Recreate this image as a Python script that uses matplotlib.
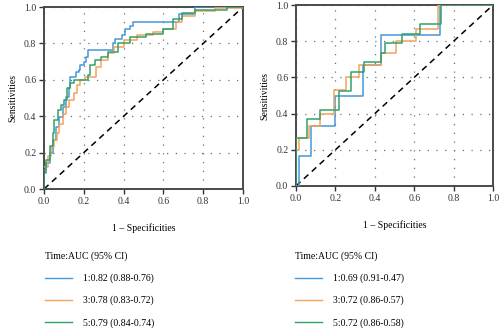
import matplotlib
matplotlib.use("Agg")
import matplotlib.pyplot as plt
from matplotlib.lines import Line2D

plt.rcParams['font.family'] = ['Liberation Serif', 'DejaVu Serif']

colors = ['#4597d6', '#f3a35c', '#32a068']

# left panel (training set)
left_blue_x = [0, 0.011, 0.028, 0.044, 0.06, 0.076, 0.093, 0.109, 0.125, 0.13, 0.16, 0.174, 0.18, 0.2,
               0.21, 0.223, 0.345, 0.357, 0.39, 0.407, 0.43, 0.447, 0.676, 0.76, 1.0]
left_blue_y = [0.106, 0.142, 0.197, 0.27, 0.343, 0.398, 0.45, 0.507, 0.553, 0.617, 0.644, 0.653, 0.68, 0.70,
               0.726, 0.762, 0.80, 0.822, 0.846, 0.88, 0.894, 0.92, 0.96, 1.0, 1.0]
left_orange_x = [0, 0.02, 0.036, 0.052, 0.063, 0.076, 0.093, 0.109, 0.125, 0.15, 0.166, 0.182, 0.207,
                 0.263, 0.288, 0.32, 0.353, 0.4, 0.467, 0.548, 0.597, 0.662, 0.694, 0.76, 0.857, 1.0]
left_orange_y = [0.12, 0.18, 0.23, 0.27, 0.31, 0.36, 0.41, 0.45, 0.49, 0.525, 0.57, 0.60, 0.617,
                 0.67, 0.71, 0.745, 0.78, 0.82, 0.846, 0.863, 0.88, 0.918, 0.95, 0.98, 0.996, 1.0]
left_green_x = [0, 0, 0.011, 0.028, 0.044, 0.052, 0.068, 0.085, 0.1, 0.117, 0.133, 0.15, 0.223, 0.23,
                0.255, 0.288, 0.32, 0.37, 0.434, 0.515, 0.597, 0.646, 0.694, 0.76, 0.92, 1.0]
left_green_y = [0, 0.09, 0.16, 0.234, 0.307, 0.38, 0.434, 0.46, 0.49, 0.553, 0.58, 0.60, 0.626, 0.68,
                0.708, 0.726, 0.754, 0.80, 0.836, 0.854, 0.88, 0.936, 0.97, 0.985, 1.0, 1.0]

# right panel (validation set)
right_blue_x = [0, 0.016, 0.074, 0.20, 0.34, 0.43, 0.73, 1.0]
right_blue_y = [0, 0.167, 0.333, 0.5, 0.667, 0.833, 1.0, 1.0]
right_orange_x = [0, 0.016, 0.066, 0.123, 0.192, 0.254, 0.32, 0.43, 0.51, 0.607, 0.72, 1.0]
right_orange_y = [0.2, 0.267, 0.333, 0.4, 0.533, 0.6, 0.667, 0.733, 0.8, 0.867, 1.0, 1.0]
right_green_x = [0, 0, 0.058, 0.123, 0.218, 0.28, 0.345, 0.43, 0.45, 0.54, 0.63, 0.735, 1.0]
right_green_y = [0, 0.263, 0.368, 0.421, 0.526, 0.632, 0.684, 0.737, 0.789, 0.842, 0.895, 1.0, 1.0]

left_labels = ['1:0.82 (0.88-0.76)', '3:0.78 (0.83-0.72)', '5:0.79 (0.84-0.74)']
right_labels = ['1:0.69 (0.91-0.47)', '3:0.72 (0.86-0.57)', '5:0.72 (0.86-0.58)']
ticks = [0.0, 0.2, 0.4, 0.6, 0.8, 1.0]

fig = plt.figure(figsize=(5, 3.29), dpi=100)
ax1 = fig.add_axes([0.088, 0.4255, 0.398, 0.553])
ax2 = fig.add_axes([0.592, 0.4347, 0.394, 0.550])

panels = [
    (ax1, [(left_blue_x, left_blue_y), (left_orange_x, left_orange_y), (left_green_x, left_green_y)], left_labels, 0.09),
    (ax2, [(right_blue_x, right_blue_y), (right_orange_x, right_orange_y), (right_green_x, right_green_y)], right_labels, 0.59),
]

for ax, curves, labels, lx in panels:
    for (x, y), c in zip(curves, colors):
        ax.plot(x, y, drawstyle='steps-post', color=c, lw=1.1, zorder=3)
    ax.plot([0, 1], [0, 1], color='black', lw=1.1, ls=(0, (4, 3)), zorder=2)
    ax.set_xlim(0, 1)
    ax.set_ylim(0, 1)
    ax.set_xticks(ticks)
    ax.set_yticks(ticks)
    ax.set_xticklabels(['%.1f' % t for t in ticks])
    ax.set_yticklabels(['%.1f' % t for t in ticks])
    ax.tick_params(direction='out', length=3.5, width=1, colors='#333333', labelsize=7, pad=2)
    ax.grid(True, color='#6f6f6f', lw=0.9, ls=(0, (1, 6)))
    for s in ax.spines.values():
        s.set_color('#4a4a4a')
        s.set_linewidth(1.4)
    ax.set_xlabel('1 – Specificities', fontsize=7, labelpad=13)
    ax.set_ylabel('Sensitivities', fontsize=7, labelpad=5)

    handles = [Line2D([], [], color=c, lw=1.0) for c in colors]
    ax.legend(handles, labels, title='Time:AUC (95% CI)', loc='upper left',
              bbox_to_anchor=(lx, 0.236), bbox_transform=fig.transFigure,
              frameon=False, fontsize=7, title_fontsize=7, alignment='left',
              borderpad=0, borderaxespad=0, handlelength=2.8, handletextpad=1.1,
              labelspacing=1.3)

fig.savefig('out.png', dpi=100)
